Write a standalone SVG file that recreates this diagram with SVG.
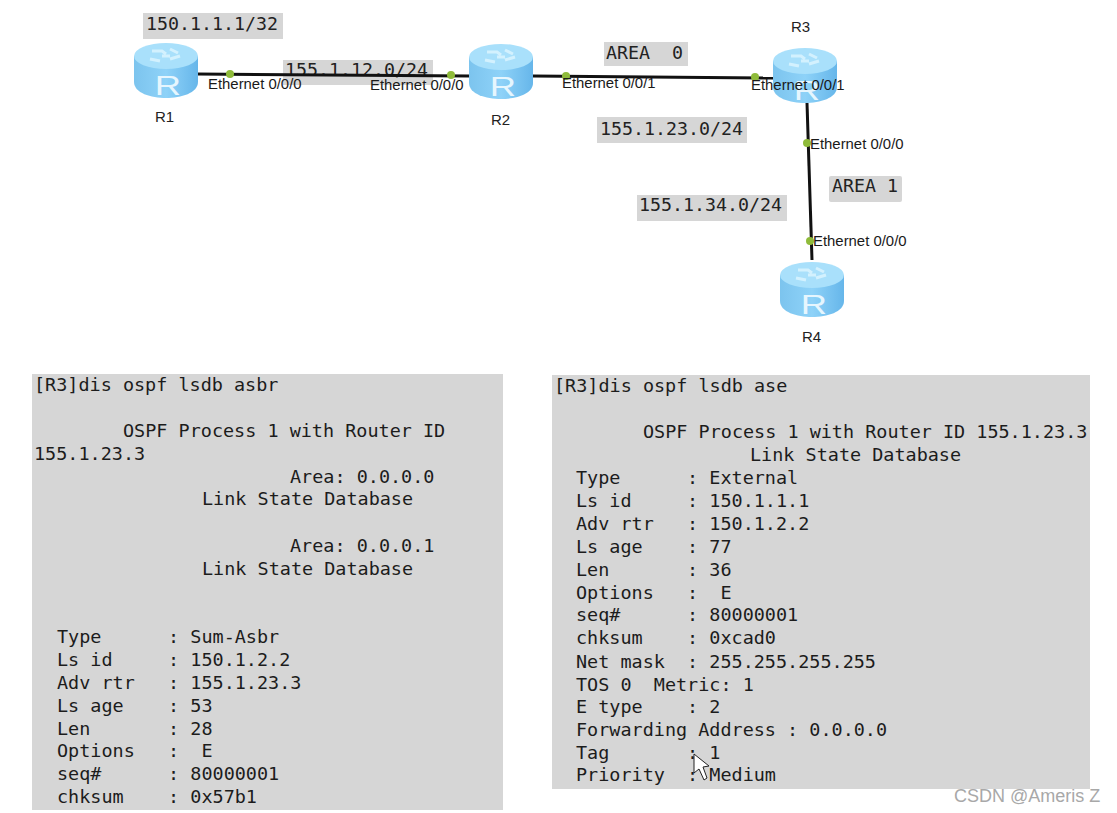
<svg xmlns="http://www.w3.org/2000/svg" width="1117" height="813" viewBox="0 0 1117 813">
<style>
.m{font-family:"DejaVu Sans Mono","Liberation Mono",monospace;font-size:18.3px;fill:#222;white-space:pre}
.p{font-family:"DejaVu Sans Mono","Liberation Mono",monospace;font-size:18.47px;fill:#1c1c1c;white-space:pre}
.e{font-family:"Liberation Sans",Arial,sans-serif;font-size:14.9px;fill:#1a1a1a}
.n{font-family:"Liberation Sans",Arial,sans-serif;font-size:15px;fill:#222}
.bg{fill:#d6d6d6}
.l{stroke:#111;stroke-width:3;fill:none}
.d{fill:#8fbb3a}
</style>
<defs>
<linearGradient id="body" x1="0" x2="1" y1="0" y2="0"><stop offset="0" stop-color="#7cc4ee"/><stop offset="0.5" stop-color="#8ed2f8"/><stop offset="1" stop-color="#66b6ea"/></linearGradient>
<g id="router">
<path d="M-32-9V17C-32 28-15 33 0 33S32 28 32 17V-9Z" fill="url(#body)"/>
<ellipse cx="0" cy="-9" rx="32" ry="13" fill="#a9e0fb"/>
<path d="M-14-14h10l4 3M4-16l8 4M-16-6l10 2M4-6l10-3M-4-9h8" stroke="#d3f1fe" stroke-width="3" fill="none"/>
<text transform="translate(2,30) scale(1.3,1)" text-anchor="middle" font-family="Liberation Sans,Arial,sans-serif" font-size="28" fill="#e6f6fe">R</text>
</g>
</defs>
<rect width="1117" height="813" fill="#fff"/>
<g id="labels-bg">
<rect class="bg" x="143" y="13" width="140" height="26"/>
<rect class="bg" x="283" y="60" width="150" height="25"/>
<rect class="bg" x="604" y="42" width="84" height="24"/>
<rect class="bg" x="597" y="117" width="150" height="26"/>
<rect class="bg" x="637" y="195" width="150" height="26"/>
<rect class="bg" x="829" y="176" width="73" height="26" rx="2"/>
</g>
<text class="m" x="146" y="30">150.1.1.1/32</text>
<text class="m" x="285" y="76">155.1.12.0/24</text>
<text class="m" x="606" y="59">AREA  0</text>
<text class="m" x="600" y="135">155.1.23.0/24</text>
<text class="m" x="639" y="211">155.1.34.0/24</text>
<text class="m" x="832" y="192">AREA 1</text>
<g id="connectors">
<path class="l" d="M197 74L470 76"/>
<path class="l" d="M533 76L775 78"/>
<path class="l" d="M807 103L812 260"/>
</g>
<g id="R1"><use href="#router" x="166" y="65"/><text class="n" x="155" y="122">R1</text></g>
<g id="R2"><use href="#router" x="501" y="66"/><text class="n" x="491" y="125">R2</text></g>
<g id="R3"><use href="#router" x="805" y="70"/><text class="n" x="791" y="32">R3</text></g>
<g id="R4"><use href="#router" x="812" y="284"/><text class="n" x="802" y="342">R4</text></g>
<g id="ports">
<circle class="d" cx="230" cy="74" r="4"/><circle class="d" cx="451" cy="75" r="4"/>
<circle class="d" cx="566" cy="76" r="4"/><circle class="d" cx="755" cy="77" r="4"/>
<circle class="d" cx="807" cy="143" r="4"/><circle class="d" cx="810" cy="241" r="4"/>
<text class="e" x="208" y="89">Ethernet 0/0/0</text>
<text class="e" x="370" y="90">Ethernet 0/0/0</text>
<text class="e" x="562" y="88">Ethernet 0/0/1</text>
<text class="e" x="751" y="90">Ethernet 0/0/1</text>
<text class="e" x="810" y="149">Ethernet 0/0/0</text>
<text class="e" x="813" y="246">Ethernet 0/0/0</text>
</g>
<g id="left-panel">
<rect class="bg" x="32" y="374" width="471" height="436"/>
<text class="p" x="34" y="391">[R3]dis ospf lsdb asbr</text>
<text class="p" x="123" y="437">OSPF Process 1 with Router ID</text>
<text class="p" x="34" y="460">155.1.23.3</text>
<text class="p" x="290" y="483">Area: 0.0.0.0</text>
<text class="p" x="202" y="505">Link State Database</text>
<text class="p" x="290" y="552">Area: 0.0.0.1</text>
<text class="p" x="202" y="575">Link State Database</text>
<text class="p" x="57" y="643">Type      : Sum-Asbr</text>
<text class="p" x="57" y="666">Ls id     : 150.1.2.2</text>
<text class="p" x="57" y="689">Adv rtr   : 155.1.23.3</text>
<text class="p" x="57" y="712">Ls age    : 53</text>
<text class="p" x="57" y="735">Len       : 28</text>
<text class="p" x="57" y="757">Options   :  E</text>
<text class="p" x="57" y="780">seq#      : 80000001</text>
<text class="p" x="57" y="803">chksum    : 0x57b1</text>
</g>
<g id="right-panel">
<rect class="bg" x="552" y="375" width="538" height="414"/>
<text class="p" x="554" y="392">[R3]dis ospf lsdb ase</text>
<text class="p" x="643" y="438">OSPF Process 1 with Router ID 155.1.23.3</text>
<text class="p" x="750" y="461">Link State Database</text>
<text class="p" x="576" y="484">Type      : External</text>
<text class="p" x="576" y="507">Ls id     : 150.1.1.1</text>
<text class="p" x="576" y="530">Adv rtr   : 150.1.2.2</text>
<text class="p" x="576" y="553">Ls age    : 77</text>
<text class="p" x="576" y="576">Len       : 36</text>
<text class="p" x="576" y="599">Options   :  E</text>
<text class="p" x="576" y="621">seq#      : 80000001</text>
<text class="p" x="576" y="644">chksum    : 0xcad0</text>
<text class="p" x="576" y="668">Net mask  : 255.255.255.255</text>
<text class="p" x="576" y="691">TOS 0  Metric: 1</text>
<text class="p" x="576" y="713">E type    : 2</text>
<text class="p" x="576" y="736">Forwarding Address : 0.0.0.0</text>
<text class="p" x="576" y="759">Tag       : 1</text>
<text class="p" x="576" y="781">Priority  : Medium</text>
<path d="M694 754V773L699 769L704 780L707 778L703 767L709 766Z" fill="#fff" stroke="#222"/>
</g>
<text x="954" y="802" font-family="Liberation Sans,Arial,sans-serif" font-size="18" fill="#a8a8a8">CSDN @Ameris Z</text>
</svg>
